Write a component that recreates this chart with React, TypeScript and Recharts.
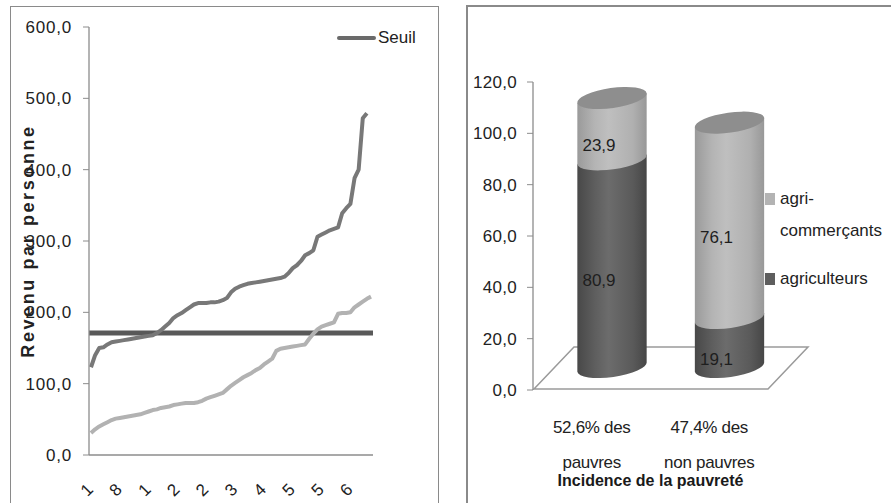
import React from 'react';
import { LineChart, Line, XAxis, YAxis, ReferenceLine, Legend, BarChart, Bar, LabelList } from 'recharts';

// ---------- Left chart data ----------
const menageRang = [
  '1','2','3','4','5','6','7','8','9','10','11','12','13','14','15','16','17','18','19','20',
  '21','22','23','24','25','26','27','28','29','30','31','32','33','34','35','36','37','38','39','40',
  '41','42','43','44','45','46','47','48','49','50','51','52','53','54','55','56','57','58','59','60',
  '61','62','63','64','65','66','67','68','69'
];
const revenuGroupeFonce = [
  123,140,150,151,155,158,159,160,161,162,
  163,164,165,166,167,168,171,175,180,185,
  192,196,199,203,207,211,213,213,213,214,
  214,215,217,220,228,233,236,238,240,241,
  242,243,244,245,246,247,248,250,255,262,
  266,272,280,283,287,306,309,312,315,317,
  319,339,346,352,388,400,472,479,null
];
const revenuGroupeClair = [
  31,36,40,43,46,49,51,52,53,54,
  55,56,57,59,61,63,64,66,67,68,
  70,71,72,73,73,73,74,76,79,81,
  83,85,87,92,97,101,105,109,112,115,
  119,122,127,131,135,146,149,150,151,152,
  153,154,155,163,170,176,180,182,184,186,
  198,199,199,200,207,211,215,219,222
];
const seuilPauvrete = 171;
const seuilLabel = 'Seuil';
const revenuTicks = [0, 100, 200, 300, 400, 500, 600];
const revenuAxisLabel = 'Revenu par personne';

// ---------- Right chart data ----------
const groupesLigne1 = ['52,6% des', '47,4% des'];
const groupesLigne2 = ['pauvres', 'non pauvres'];
const partAgriculteurs = [80.9, 19.1];
const partAgriCommercants = [23.9, 76.1];
const partTicks = [0, 20, 40, 60, 80, 100, 120];
const incidenceTitle = 'Incidence de la pauvreté';
const nomAgriculteurs = 'agriculteurs';
const nomAgriCommercants = 'agri-commerçants';

const FONT = '"Liberation Sans", Arial, sans-serif';
const fmt = (v: number) => Number(v).toFixed(1).replace('.', ',');

// 3D offsets for the cylinders (half of the floor depth)
const DX = 20;
const DY = -23;
const RY = 10;
const TILT = -8;

const RotTick = (props: any) => {
  const { x, y, payload } = props;
  const s = String(payload.value).charAt(0);
  return (
    <g transform={`translate(${x - 4},${y + 35})`}>
      <text textAnchor="middle" dominantBaseline="central" transform="rotate(-45)" fontSize={17} fill="#222" fontFamily={FONT}>
        {s}
      </text>
    </g>
  );
};

const GroupTick = (props: any) => {
  const { x, y, index } = props;
  return (
    <g>
      <text x={x} y={y + 43} textAnchor="middle" fontSize={17} fill="#222" fontFamily={FONT} letterSpacing={-0.3}>
        {groupesLigne1[index]}
      </text>
      <text x={x} y={y + 78} textAnchor="middle" fontSize={17} fill="#222" fontFamily={FONT} letterSpacing={-0.3}>
        {groupesLigne2[index]}
      </text>
    </g>
  );
};

const Cyl = (props: any) => {
  const { x, y, width, height, kind } = props;
  if (width == null || height == null) return null;
  const cx = x + width / 2 + DX;
  const rx = width / 2;
  const yTop = y + DY;
  const yBot = y + height + DY;
  const t = (TILT * Math.PI) / 180;
  const ex = rx * Math.cos(t);
  const ey = rx * Math.sin(t);
  const gid = `cyl-${kind}`;
  const body = `M ${cx - ex} ${yTop - ey} L ${cx - ex} ${yBot - ey} A ${rx} ${RY} ${TILT} 0 0 ${cx + ex} ${yBot + ey} L ${cx + ex} ${yTop + ey} Z`;
  const stops =
    kind === 'dark'
      ? ['#484848', '#5e5e5e', '#6c6c6c', '#5a5a5a', '#464646']
      : ['#9a9a9a', '#b4b4b4', '#bfbfbf', '#b0b0b0', '#989898'];
  return (
    <g>
      <defs>
        <linearGradient id={gid} x1="0" y1="0" x2="1" y2="0">
          <stop offset="0%" stopColor={stops[0]} />
          <stop offset="25%" stopColor={stops[1]} />
          <stop offset="45%" stopColor={stops[2]} />
          <stop offset="80%" stopColor={stops[3]} />
          <stop offset="100%" stopColor={stops[4]} />
        </linearGradient>
      </defs>
      <path d={body} fill={`url(#${gid})`} />
      {kind === 'light' && (
        <ellipse cx={cx} cy={yTop} rx={rx} ry={RY} fill="#8e8e8e" transform={`rotate(${TILT} ${cx} ${yTop})`} />
      )}
    </g>
  );
};

const SegLabel = (props: any) => {
  const vb = props.viewBox || props;
  const { x, y, width, height } = vb;
  const { value } = props;
  if (x == null) return null;
  return (
    <text x={x + width / 2 + 7} y={y + height / 2 - 6} textAnchor="middle" dominantBaseline="central" fontSize={17} fill="#1e1e1e" fontFamily={FONT}>
      {fmt(value)}
    </text>
  );
};

const SeuilLegend = () => (
  <div style={{ position: 'relative', width: 100, height: 22, fontFamily: FONT, fontSize: 17, color: '#222' }}>
    <div style={{ position: 'absolute', left: 0, top: 8, width: 39, height: 4, background: '#6a6a6a', borderRadius: 2 }} />
    <div style={{ position: 'absolute', left: 41, top: 0, lineHeight: '20px' }}>{seuilLabel}</div>
  </div>
);

const BarLegend = (props: any) => {
  const payload = props.payload || [];
  const ordered = [
    payload.find((p: any) => p.value === nomAgriCommercants),
    payload.find((p: any) => p.value === nomAgriculteurs),
  ].filter(Boolean);
  return (
    <div style={{ position: 'relative', width: 130, height: 110, fontFamily: FONT, fontSize: 17, color: '#222' }}>
      {ordered.map((p: any, i: number) => {
        const top = i === 0 ? 0 : 80;
        return (
          <div key={i}>
            <div style={{ position: 'absolute', left: 0, top: top + 3, width: 10, height: 12, background: p.color }} />
            <div style={{ position: 'absolute', left: 15, top: top - 1, width: 112, lineHeight: '32px', marginTop: -6 }}>{p.value}</div>
          </div>
        );
      })}
    </div>
  );
};

export default function App() {
  const lineData = menageRang.map((r, i) => ({ rang: r, fonce: revenuGroupeFonce[i], clair: revenuGroupeClair[i] }));
  const barData = groupesLigne1.map((g, i) => ({
    groupe: g + ' ' + groupesLigne2[i],
    agriculteurs: partAgriculteurs[i],
    agriCommercants: partAgriCommercants[i],
  }));

  return (
    <div style={{ position: 'absolute', left: 0, top: 0, width: 891, height: 503, overflow: 'hidden', background: '#fff', fontFamily: FONT }}>
      <div style={{ position: 'absolute', left: 10, top: 6, width: 427, height: 530, border: '1.5px solid #8a8a8a' }} />
      <div style={{ position: 'absolute', left: 466, top: 5, width: 450, height: 530, border: '2px solid #8a8a8a' }} />

      <div style={{ position: 'absolute', left: 0, top: 0 }}>
        <LineChart width={445} height={503} data={lineData} margin={{ top: 27, right: 72, bottom: 0, left: 0 }}>
          <XAxis
            dataKey="rang"
            interval={6}
            height={48}
            tickLine={false}
            tickSize={0}
            tickMargin={0}
            axisLine={{ stroke: '#8c8c8c', strokeWidth: 1.3 }}
            padding={{ left: 2, right: 2 }}
            tick={<RotTick />}
          />
          <YAxis
            width={89}
            domain={[0, 600]}
            ticks={revenuTicks}
            tickFormatter={fmt}
            tickSize={6}
            tickMargin={11}
            axisLine={{ stroke: '#8c8c8c', strokeWidth: 1.3 }}
            tickLine={{ stroke: '#8c8c8c' }}
            tick={{ fill: '#222', fontSize: 17, fontFamily: FONT, letterSpacing: 0.8 }}
            label={{
              value: revenuAxisLabel,
              angle: -90,
              position: 'insideLeft',
              offset: 28,
              style: { textAnchor: 'middle', fontWeight: 700, fontSize: 18, letterSpacing: 2.6, fill: '#222', fontFamily: FONT },
            }}
          />
          <ReferenceLine y={seuilPauvrete} stroke="#595959" strokeWidth={5} />
          <Line dataKey="fonce" stroke="#787878" strokeWidth={4} dot={false} isAnimationActive={false} strokeLinejoin="round" />
          <Line dataKey="clair" stroke="#b2b2b2" strokeWidth={4} dot={false} isAnimationActive={false} strokeLinejoin="round" />
          <Legend
            layout="vertical"
            align="center"
            verticalAlign="middle"
            content={<SeuilLegend />}
            wrapperStyle={{ left: 337, top: 28, width: 100 }}
          />
        </LineChart>
      </div>

      <svg width={891} height={503} style={{ position: 'absolute', left: 0, top: 0 }}>
        <polygon points="534,389 768,389 808,347 574,347" fill="#fff" stroke="#9a9a9a" strokeWidth={1.5} />
      </svg>

      <div style={{ position: 'absolute', left: 445, top: 0 }}>
        <BarChart width={446} height={503} data={barData} margin={{ top: 82, right: 123, bottom: 0, left: 0 }} barSize={70}>
          <XAxis
            dataKey="groupe"
            height={113}
            axisLine={false}
            tickLine={false}
            tickSize={0}
            tickMargin={0}
            interval={0}
            tick={<GroupTick />}
            label={{
              value: incidenceTitle,
              position: 'insideBottom',
              offset: 17,
              style: { fontWeight: 700, fontSize: 16, fill: '#1a1a1a', fontFamily: FONT },
            }}
          />
          <YAxis
            width={88}
            domain={[0, 120]}
            ticks={partTicks}
            tickFormatter={fmt}
            tickSize={6}
            tickMargin={10}
            axisLine={{ stroke: '#8c8c8c', strokeWidth: 1.3 }}
            tickLine={{ stroke: '#8c8c8c' }}
            tick={{ fill: '#222', fontSize: 17, fontFamily: FONT, letterSpacing: 0.3 }}
          />
          <Bar dataKey="agriculteurs" name={nomAgriculteurs} stackId="s" fill="#5e5e5e" shape={<Cyl kind="dark" />} isAnimationActive={false}>
            <LabelList dataKey="agriculteurs" content={<SegLabel />} />
          </Bar>
          <Bar dataKey="agriCommercants" name={nomAgriCommercants} stackId="s" fill="#b3b3b3" shape={<Cyl kind="light" />} isAnimationActive={false}>
            <LabelList dataKey="agriCommercants" content={<SegLabel />} />
          </Bar>
          <Legend
            layout="vertical"
            align="center"
            verticalAlign="middle"
            content={<BarLegend />}
            wrapperStyle={{ left: 320, top: 190, width: 130 }}
          />
        </BarChart>
      </div>
    </div>
  );
}
